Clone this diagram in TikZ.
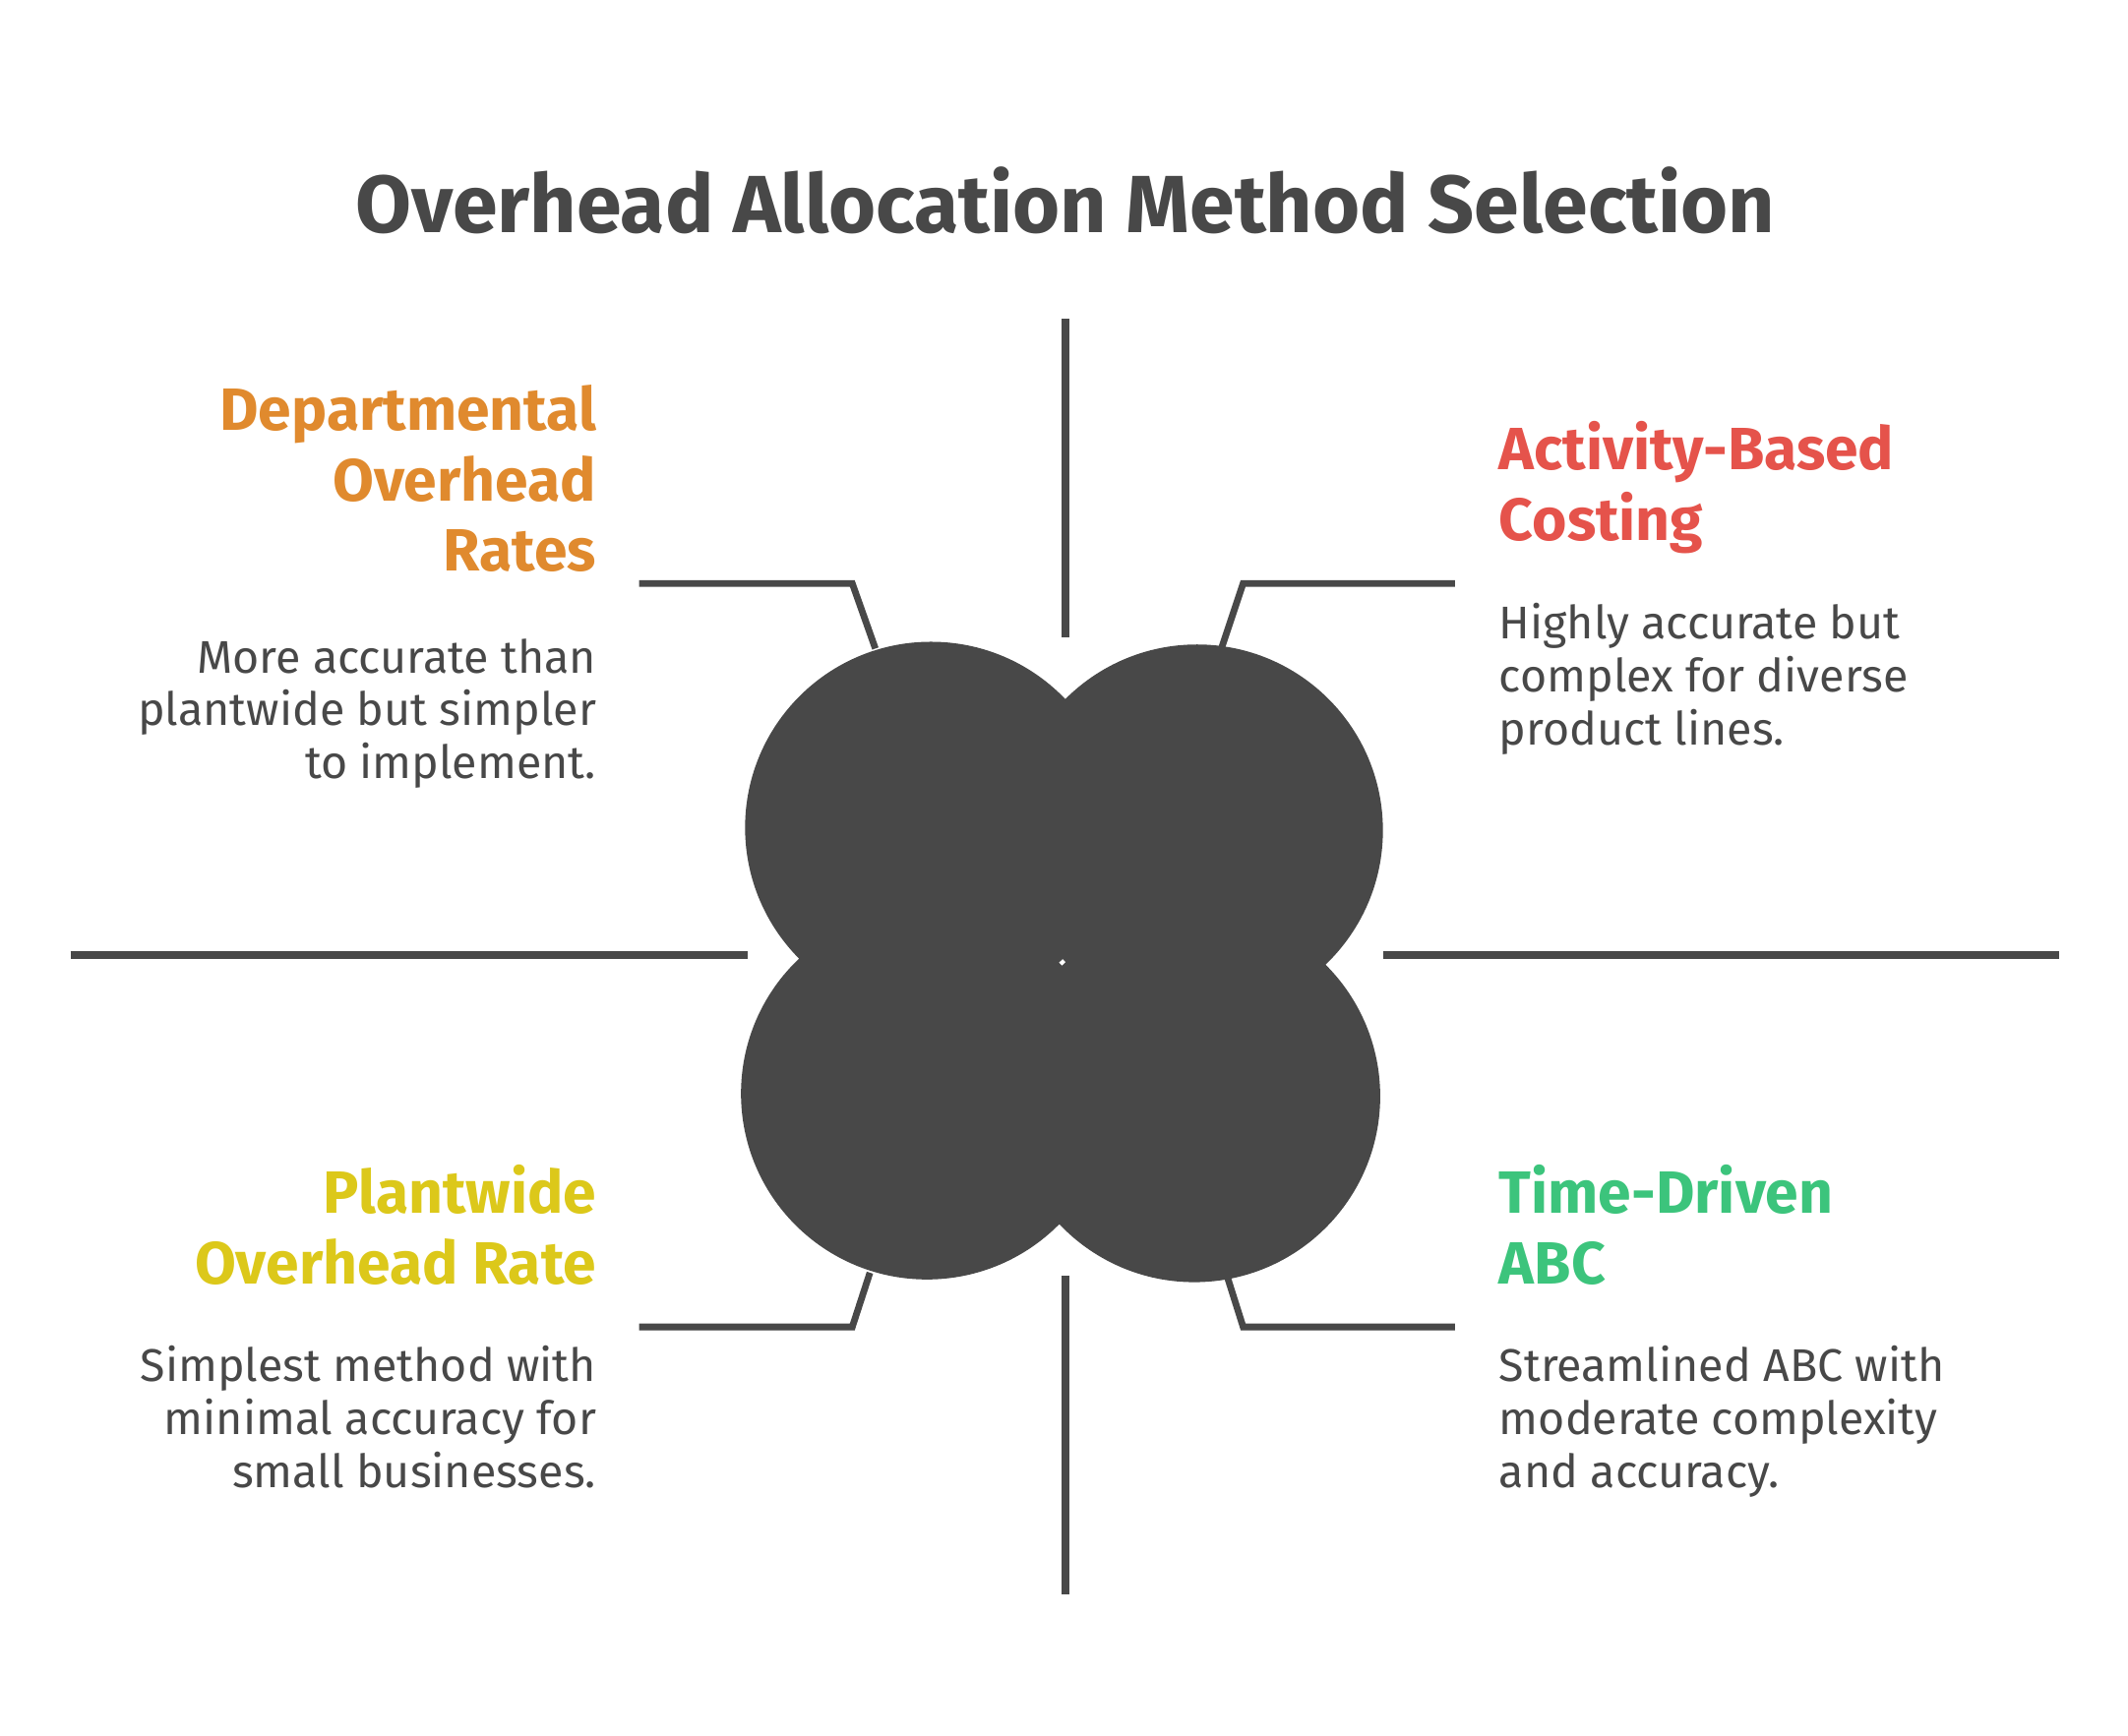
\documentclass[tikz,border=0pt]{standalone}
\usepackage{fontspec}
\setmainfont{Fira Sans}
\usetikzlibrary{positioning}
\definecolor{ink}{HTML}{484848}
\definecolor{deptorange}{HTML}{E08A2E}
\definecolor{abcred}{HTML}{E5534B}
\definecolor{plantyellow}{HTML}{DCC81A}
\definecolor{tdgreen}{HTML}{3CC47C}
\tikzset{
  divider/.style={ink, line width=1.6pt},
  leader/.style={ink, line width=1.4pt},
  head/.style={font=\fontsize{12.5}{14.8}\selectfont\bfseries, inner sep=0pt},
  desc/.style={font=\fontsize{9.6}{11.1}\selectfont, text=ink, inner sep=0pt},
}
\begin{document}
\begin{tikzpicture}[x=0.01cm,y=-0.01cm]
  \useasboundingbox[fill=white] (0,0) rectangle (1568,1279);
  \node[font=\fontsize{17}{20}\selectfont\bfseries, text=ink] (title) at (785,148) {Overhead Allocation Method Selection};
  % dividers
  \draw[divider] (785,235) -- (785,470);
  \draw[divider] (785,940) -- (785,1175);
  \draw[divider] (52,704) -- (551,704);
  \draw[divider] (1019,704) -- (1517,704);
  % centre blob
  \fill[ink] (686,610) circle (137) (882,612) circle (137)
             (683,806) circle (137) (880,808) circle (137);
  % leaders
  \draw[leader] (471,430) -- (628,430) -- (645,478);
  \draw[leader] (1072,430) -- (916,430) -- (900,478);
  \draw[leader] (471,978) -- (628,978) -- (641,938);
  \draw[leader] (1072,978) -- (916,978) -- (904,940);
  % departmental
  \node[head, text=deptorange, align=right, anchor=north east] (dept) at (440,283) {Departmental\\Overhead\\Rates};
  \node[desc, align=right, anchor=north east] (deptdesc) at (440,470) {More accurate than\\plantwide but simpler\\to implement.};
  % activity based
  \node[head, text=abcred, align=left, anchor=north west] (abc) at (1104,310) {Activity-Based\\Costing};
  \node[desc, align=left, anchor=north west] (abcdesc) at (1104,444) {Highly accurate but\\complex for diverse\\product lines.};
  % plantwide
  \node[head, text=plantyellow, align=right, anchor=north east] (plant) at (440,858) {Plantwide\\Overhead Rate};
  \node[desc, align=right, anchor=north east] (plantdesc) at (440,991) {Simplest method with\\minimal accuracy for\\small businesses.};
  % time driven
  \node[head, text=tdgreen, align=left, anchor=north west] (td) at (1104,858) {Time-Driven\\ABC};
  \node[desc, align=left, anchor=north west] (tddesc) at (1104,991) {Streamlined ABC with\\moderate complexity\\and accuracy.};
\end{tikzpicture}
\end{document}
